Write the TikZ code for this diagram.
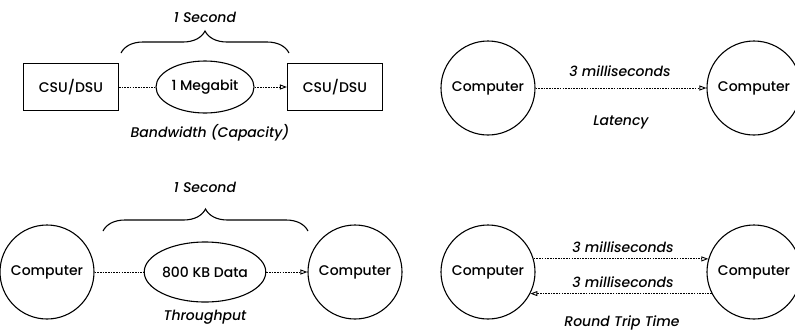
\documentclass[tikz,border=0pt]{standalone}
\usepackage{fontspec}
\setmainfont{Poppins}[UprightFont=* Medium,ItalicFont=* Medium Italic]
\usetikzlibrary{arrows.meta,decorations.pathreplacing,shapes.geometric}

\begin{document}
\begin{tikzpicture}[x=1pt,y=-1pt]
\tikzstyle{lien}=[dash pattern=on 1.6pt off 1.1pt,line width=0.9pt]
\tikzstyle{fleche}=[lien,-{Triangle[open,length=7pt,width=5pt]}]
\tikzset{boite/.style={draw,line width=1.1pt,minimum width=95pt,minimum height=47pt,font=\fontsize{14}{16}\selectfont},
poste/.style={draw,circle,line width=1.1pt,minimum size=94pt,inner sep=0pt,font=\fontsize{14}{16}\selectfont},
paquet/.style={draw,ellipse,line width=1.1pt,inner sep=0pt,font=\fontsize{14}{16}\selectfont},
titre/.style={font=\itshape\fontsize{14}{16}\selectfont},
accolade/.style={decorate,decoration={brace,amplitude=22pt},line width=1.1pt}}
\useasboundingbox (0,0) rectangle (795,333);

% Bande passante
\node[boite] (B1) at (71,87) {CSU/DSU};
\node[boite] (B2) at (335,87) {CSU/DSU};
\node[paquet,minimum width=98pt,minimum height=52pt] (M) at (205,87) {1 Megabit};
\draw[lien] (B1) -- (M);
\draw[fleche] (M) -- (B2);
\coordinate (a1) at (121,53);
\coordinate (a2) at (289,53);
\draw[accolade] (a1) -- (a2);
\node[titre] (S1) at (205,17) {1 Second};
\node[titre] (T1) at (210,133) {Bandwidth (Capacity)};

% Latence
\node[poste] (L1) at (488,88) {Computer};
\node[poste] (L2) at (754,88) {Computer};
\draw[fleche] (L1) -- (L2);
\node[titre] (T2) at (620,71) {3 milliseconds};
\node[titre] (T3) at (621,122) {Latency};

% Debit
\node[poste] (D1) at (47,272) {Computer};
\node[poste] (D2) at (355,272) {Computer};
\node[paquet,minimum width=118pt,minimum height=60pt] (K) at (205,272) {800 KB Data};
\draw[lien] (D1) -- (K);
\draw[fleche] (K) -- (D2);
\coordinate (a3) at (103,231);
\coordinate (a4) at (308,231);
\draw[accolade] (a3) -- (a4);
\node[titre] (S2) at (205,187) {1 Second};
\node[titre] (T4) at (205,317) {Throughput};

% Aller-retour
\node[poste] (R1) at (488,272) {Computer};
\node[poste] (R2) at (754,272) {Computer};
\draw[fleche] (R1.16) -- (R2.164);
\draw[fleche] (R2.-153) -- (R1.-27);
\node[titre] (T5) at (623,247) {3 milliseconds};
\node[titre] (T6) at (623,282) {3 milliseconds};
\node[titre] (T7) at (622,323) {Round Trip Time};
\end{tikzpicture}
\end{document}
